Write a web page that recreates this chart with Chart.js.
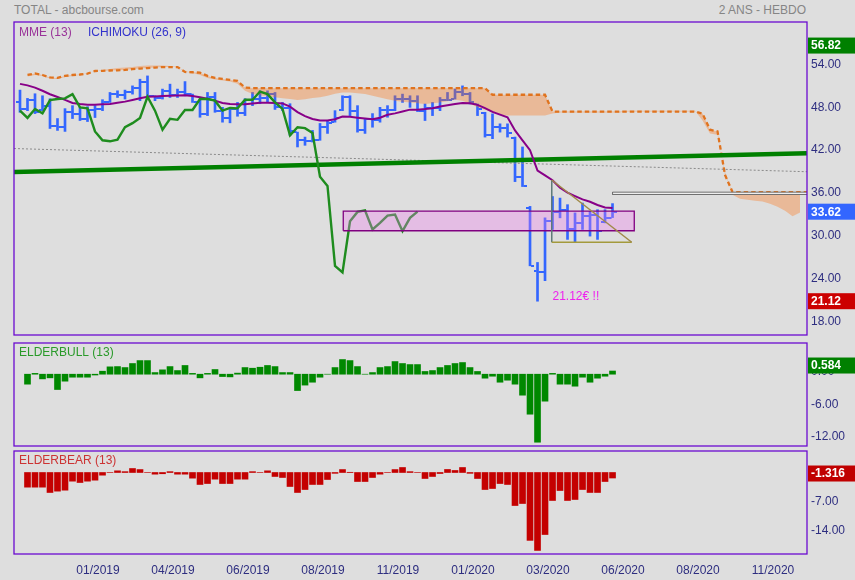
<!DOCTYPE html>
<html><head><meta charset="utf-8">
<script src="https://cdn.jsdelivr.net/npm/chart.js@4.4.1/dist/chart.umd.min.js"></script>
<style>
html,body{margin:0;padding:0;background:#dedede;}
body{width:855px;height:580px;position:relative;overflow:hidden;font-family:"Liberation Sans",Arial,sans-serif;}
canvas{position:absolute;left:0;}
.t{position:absolute;font-size:12px;color:#858585;top:3px;line-height:14px;}
</style></head><body>
<div class="t" style="left:14px">TOTAL - abcbourse.com</div>
<div class="t" style="right:49px">2 ANS - HEBDO</div>
<canvas id="cMain" width="855" height="340" style="top:0"></canvas>
<canvas id="cBull" width="855" height="108" style="top:340px"></canvas>
<canvas id="cBear" width="855" height="132" style="top:448px"></canvas>
<script>
// ---------------- DATA ----------------
const xTickIdx = [10,20,30,40,50,60,70,80,90,100];
const xTickLabels = ['01/2019','04/2019','06/2019','08/2019','11/2019','01/2020','03/2020','06/2020','08/2020','11/2020'];
const mainTicks = [18,24,30,36,42,48,54];
const bullTicks = [0,-6,-12];
const bearTicks = [0,-7,-14];

const opens = [49.0,48.0,49.2,47.8,48.4,45.6,45.4,47.6,47.2,46.6,
 47.8,47.9,49.0,50.0,49.9,50.4,50.9,51.8,49.8,49.5,
 50.5,49.9,50.4,50.0,49.0,47.2,49.6,47.73,46.72,47.97,
 47.36,49.21,49.35,49.44,50.04,48.19,48.05,44.7,43.59,43.45,
 43.68,45.42,46.2,47.8,49.67,47.73,45.06,46.59,46.45,47.83,
 47.83,49.35,49.35,49.12,47.73,48.11,48.05,49.26,49.4,50.40,
 50.04,48.6,47.4,44.28,45.42,45.29,43.9,38.51,34.2,25.4,
 25.15,32.28,33.59,33.81,31.14,32.06,33.07,33.21,32.2,32.76];
const highs = [50.60,49.44,50.09,49.81,49.39,46.63,48.01,48.43,48.19,48.29,
 48.43,49.26,50.27,50.50,50.60,51.19,52.12,52.58,49.81,50.74,
 51.43,50.74,51.79,50.04,49.35,50.27,50.27,48.19,48.10,48.88,
 49.40,50.27,50.50,50.50,50.27,48.88,48.70,44.73,44.04,44.97,
 45.94,46.35,47.73,49.81,49.81,48.43,46.59,47.32,48.19,48.43,
 49.81,50.04,49.81,49.81,48.66,48.88,49.57,50.27,50.74,51.19,
 50.27,48.66,47.50,47.28,45.89,45.89,44.04,42.66,34.36,26.53,
 32.76,35.74,35.52,34.60,33.45,34.83,33.67,33.90,33.90,34.75];
const lows = [47.50,47.73,47.32,47.73,45.24,44.97,44.83,46.63,46.35,46.21,
 46.77,47.73,48.88,49.57,49.35,50.04,49.12,49.57,49.12,49.35,
 49.57,49.57,49.81,48.88,46.81,47.04,47.50,46.12,46.03,46.95,
 47.04,48.43,48.70,48.88,47.90,47.73,44.28,42.66,42.89,43.35,
 43.59,44.55,46.12,47.73,47.04,44.73,44.55,45.42,46.12,46.81,
 47.73,48.88,48.19,47.60,46.35,47.04,47.73,49.12,49.35,49.81,
 48.66,47.04,44.04,43.82,44.73,44.04,37.82,37.13,26.06,21.12,
 23.99,31.14,32.76,29.75,29.30,31.14,30.21,29.75,32.06,32.80];
const closes = [48.0,49.2,47.6,48.4,45.6,45.4,47.6,47.2,46.6,47.8,
 47.9,49.0,50.0,49.9,50.4,50.9,51.8,49.8,49.5,50.5,
 49.9,50.4,50.0,49.0,47.2,49.6,47.73,46.72,47.97,47.36,
 49.21,49.35,49.44,50.04,48.19,48.05,44.83,43.59,43.45,43.68,
 45.42,45.98,46.72,49.67,47.73,45.06,46.59,46.45,47.83,47.83,
 49.35,49.35,49.12,47.73,48.11,48.05,49.26,49.26,50.40,50.04,
 48.88,47.97,44.28,45.42,45.29,44.60,38.51,37.22,26.06,25.15,
 32.28,33.59,33.81,31.14,32.06,33.07,33.21,30.90,32.76,33.62];

const ema13 = [51.47,51.26,50.94,50.51,50.02,49.64,49.23,48.81,48.65,48.54,
 48.55,48.61,48.66,48.84,48.99,49.21,49.45,49.67,49.72,49.78,
 49.82,49.85,49.89,49.77,49.59,49.41,49.13,48.79,48.67,48.62,
 48.61,48.73,48.84,48.85,48.80,48.74,48.29,47.53,46.97,46.56,
 46.35,46.35,46.54,46.90,46.88,46.75,46.63,46.52,46.74,47.15,
 47.35,47.60,47.87,47.87,47.96,48.08,48.30,48.47,48.65,48.81,
 48.77,48.54,48.08,47.55,47.17,46.81,44.97,43.59,42.20,39.37,
 38.68,38.01,36.96,36.28,35.80,35.34,35.00,34.55,34.21,34.14];

const chikou = [47.73,46.72,47.97,47.36,49.21,49.35,49.44,50.04,48.19,48.05,
 44.83,43.59,43.45,43.68,45.42,45.98,46.72,49.67,47.73,45.06,
 46.59,46.45,47.83,47.83,49.35,49.35,49.12,47.73,48.11,48.05,
 49.26,49.26,50.40,50.04,48.88,47.97,44.28,45.42,45.29,44.60,
 38.51,37.22,26.06,25.15,32.28,33.59,33.81,31.14,32.06,33.07,
 33.21,30.90,32.76,33.62];

const spanA = [null,52.51,52.71,52.58,52.23,52.16,52.44,52.58,52.71,52.99,
 53.20,53.41,53.54,53.68,53.75,53.82,53.96,54.03,54.03,54.03,
 53.96,53.82,53.27,52.99,52.71,52.30,52.09,51.95,51.81,51.47,
 50.50,50.04,49.88,49.74,49.60,49.46,49.35,49.21,49.33,49.49,
 49.60,49.81,50.09,50.27,50.27,50.15,50.04,49.81,49.57,49.33,
 49.12,48.98,48.88,48.77,48.66,48.77,48.88,49.05,49.26,49.12,
 48.70,48.19,47.87,47.46,47.18,47.04,47.04,47.04,47.04,47.04,
 47.04,47.32,47.46,47.46,47.46,47.46,47.46,47.46,47.46,47.46,
 47.46,47.73,47.73,47.73,47.73,47.73,47.73,47.73,47.73,47.73,
 47.73,46.35,44.55,44.35,39.16,35.98,35.42,35.28,35.15,35.05,
 34.73,34.32,33.76,33.00,33.49,null];
const spanB = [null,52.71,52.92,52.71,52.37,52.30,52.58,52.71,52.78,52.89,
 53.27,53.29,53.34,53.36,53.41,53.54,53.61,53.68,53.75,53.82,
 53.82,53.82,53.13,53.09,53.03,52.58,52.30,52.16,52.02,51.88,
 50.96,50.87,50.87,50.87,50.87,50.87,50.87,50.87,50.87,50.87,
 50.87,50.87,50.87,50.87,50.87,50.87,50.87,50.87,50.87,50.87,
 50.87,50.87,50.87,50.87,50.87,50.87,50.87,50.87,50.87,50.87,
 50.87,50.87,50.87,49.95,49.95,49.95,49.95,49.95,49.95,49.95,
 49.95,47.60,47.60,47.60,47.60,47.60,47.60,47.60,47.60,47.60,
 47.60,47.60,47.60,47.60,47.60,47.60,47.60,47.60,47.60,47.60,
 47.60,47.32,45.07,44.83,38.75,36.36,36.36,36.36,36.36,36.36,
 36.36,36.36,36.36,36.36,36.36,36.36];

const elderBull = [null,-1.83,0.15,-0.86,-0.67,-2.81,-1.28,-0.55,-0.55,-0.55,
 -0.15,0.55,1.35,1.40,1.22,1.96,2.50,2.50,0.30,0.80,
 1.40,0.67,1.60,0.15,-0.67,0.15,0.86,-0.43,-0.49,0.20,
 1.22,1.10,1.28,1.60,1.40,0.30,0.30,-3.00,-2.00,-1.47,
 -0.55,0,1.22,2.69,2.50,1.40,0,0.30,1.22,1.40,
 2.32,1.96,1.77,1.77,0.50,0.67,1.22,1.60,1.96,2.14,
 1.22,0.50,-0.73,-0.37,-1.47,-1.10,-1.83,-3.85,-7.34,-12.48,
 -4.95,0.15,-1.83,-1.83,-2.20,-0.55,-1.47,-0.73,-0.37,0.584];
const elderBear = [null,-3.50,-3.50,-3.50,-4.77,-4.45,-4.22,-2.07,-2.39,-2.07,
 -1.83,-0.64,0,0.40,0.20,0.95,0.70,0,-0.40,-0.30,
 0.20,-0.40,-0.40,-1.35,-2.86,-2.63,-1.59,-2.63,-2.63,-1.59,
 -1.59,0.20,0,0.40,-0.95,-1.19,-3.34,-4.77,-4.06,-2.86,
 -2.86,-1.67,-0.20,0.70,0.05,-2.15,-2.15,-1.19,-0.40,0,
 0.70,1.19,0.20,0,-1.43,-0.95,-0.24,0.72,0.48,1.19,
 -0.20,-1.43,-4.06,-3.82,-2.63,-2.86,-7.88,-7.40,-16.20,-18.60,
 -14.80,-6.68,-4.30,-6.68,-6.44,-4.06,-4.77,-4.77,-2.15,-1.316];

const periodHigh = 56.82, lastClose = 33.62, periodLow = 21.12;
const bullLast = 0.584, bearLast = -1.316;
const trendGreen = [[-0.8,39.16],[104.93,41.79]];
const trendGrey = [[-0.8,42.44],[104.93,39.20]];
const zoneBox = [[43.1,30.96],[81.9,30.96],[81.9,33.70],[43.1,33.70],[43.1,30.96]];
const triangle = [[70.9,38.05],[70.9,29.35],[81.56,29.35],[70.9,38.05]];
const levelBox = [[79.0,36.02],[106,36.02],[106,36.35],[79.0,36.35],[79.0,36.02]];
const lowNote = {x:71, y:21.75, text:'21.12€ !!'};

// ---------------- STYLE / HELPERS ----------------
const NAVY = '#2e2e80';
const BLUE = '#3366ff';
const FONT = '"Liberation Sans", Arial, sans-serif';
const X_MIN = -0.8, X_MAX = 104.93;
Chart.defaults.font.family = FONT;
Chart.defaults.font.size = 12;
Chart.defaults.animation = false;

const series = arr => arr.map((v,i) => ({x:i, y:v}));
const pairs = arr => arr.map(p => ({x:p[0], y:p[1]}));

function tickImg(side){
  const c = document.createElement('canvas');
  c.width = 8; c.height = 2;
  const g = c.getContext('2d');
  g.fillStyle = BLUE;
  if (side === 'L') g.fillRect(0,0,3,2); else g.fillRect(5,0,3,2);
  return c;
}
function noPad(s){ s.paddingTop = 0; s.paddingBottom = 0; s.paddingLeft = 0; s.paddingRight = 0; }

function xScale(show){
  return {
    type:'linear', min:X_MIN, max:X_MAX, offset:false, display:show,
    grid:{display:false, drawTicks:false, offset:false}, border:{display:false},
    afterBuildTicks: s => { s.ticks = xTickIdx.map(v => ({value:v})); },
    afterFit: s => { if (show) s.height = 26; noPad(s); },
    ticks:{autoSkip:false, maxRotation:0, minRotation:0, padding:9, labelOffset:3, color:NAVY,
      callback: v => { const k = xTickIdx.indexOf(v); return k >= 0 ? xTickLabels[k] : ''; }}
  };
}
function yScale(min, max, ticks, labelOffset){
  return {
    type:'linear', position:'right', min, max,
    grid:{display:false, drawTicks:false}, border:{display:false},
    afterBuildTicks: s => { s.ticks = ticks.map(v => ({value:v})); },
    afterFit: s => { s.width = 48; noPad(s); },
    ticks:{padding:4, labelOffset, color:NAVY, callback: v => Number(v).toFixed(2)}
  };
}

const frame = { id:'frame', afterDraw(chart){
  const {ctx, chartArea:a} = chart;
  ctx.save(); ctx.strokeStyle = '#6a0acf'; ctx.lineWidth = 1.3;
  ctx.strokeRect(a.left, a.top, a.right - a.left, a.bottom - a.top);
  ctx.restore();
}};
const panelText = { id:'panelText', afterDraw(chart, args, opts){
  if (!opts.items) return;
  const {ctx, chartArea:a} = chart;
  ctx.save(); ctx.font = '12px ' + FONT; ctx.textBaseline = 'middle'; ctx.textAlign = 'left';
  opts.items.forEach(it => { ctx.fillStyle = it.color; ctx.fillText(it.text, a.left + it.dx, a.top + it.dy); });
  ctx.restore();
}};
const sideBoxes = { id:'sideBoxes', afterDraw(chart, args, opts){
  if (!opts.items) return;
  const {ctx, chartArea:a} = chart; const ys = chart.scales.y;
  ctx.save(); ctx.font = 'bold 12px ' + FONT; ctx.textBaseline = 'middle'; ctx.textAlign = 'left';
  opts.items.forEach(it => {
    const py = ys.getPixelForValue(it.v) + (opts.dy || 0);
    ctx.fillStyle = it.bg; ctx.fillRect(a.right + 1, py - 8, chart.width - a.right - 1, 16);
    ctx.fillStyle = '#ffffff'; ctx.fillText(String(it.v), a.right + 4, py + 0.5);
  });
  ctx.restore();
}};
const note = { id:'note', afterDatasetsDraw(chart, args, opts){
  if (!opts.text) return;
  const {ctx} = chart;
  ctx.save(); ctx.font = '12px ' + FONT; ctx.textBaseline = 'middle'; ctx.textAlign = 'left';
  ctx.fillStyle = opts.color;
  ctx.fillText(opts.text, chart.scales.x.getPixelForValue(opts.x), chart.scales.y.getPixelForValue(opts.y));
  ctx.restore();
}};
Chart.register(frame, panelText, sideBoxes, note);

const baseOpts = (padTop, padBottom) => ({
  responsive:false, devicePixelRatio:1, animation:false, events:[],
  layout:{padding:{left:14, right:0, top:padTop, bottom:padBottom}},
  plugins:{legend:{display:false}, tooltip:{enabled:false}}
});

// ---------------- MAIN PANEL ----------------
const triColors = ['#5f7a78','#a39a3c','#a08a48'];
const mainOpts = baseOpts(22, 2);
mainOpts.scales = { x: xScale(false), y: yScale(16.40, 60.11, mainTicks, -1.5) };
mainOpts.plugins.panelText = { items:[
  {text:'MME (13)', color:'#993399', dx:5, dy:10.5},
  {text:'ICHIMOKU (26, 9)', color:'#3333cc', dx:74, dy:10.5}
]};
mainOpts.plugins.sideBoxes = { dy:0, items:[
  {v:periodHigh, bg:'#008000'}, {v:lastClose, bg:'#3366ff'}, {v:periodLow, bg:'#cc0000'}
]};
mainOpts.plugins.note = { x:lowNote.x, y:lowNote.y, text:lowNote.text, color:'#ee22ee' };

new Chart(document.getElementById('cMain'), {
  type:'line',
  data:{ datasets:[
    { type:'bar', data: highs.map((h,i) => ({x:i, y:[lows[i], h]})), backgroundColor:BLUE,
      barThickness:2, grouped:false, order:10 },
    { data: series(opens), showLine:false, pointStyle: tickImg('L'), pointRadius:3, order:9 },
    { data: series(closes), showLine:false, pointStyle: tickImg('R'), pointRadius:3, order:9 },
    { data: series(spanB), borderColor:'#e0731e', borderWidth:2.3, borderDash:[4.5,3], pointRadius:0, fill:false, order:7 },
    { data: series(spanA), borderWidth:0, borderColor:'rgba(0,0,0,0)', pointRadius:0,
      fill:{target:3, above:'rgba(255,110,10,0.33)', below:'rgba(255,110,10,0.33)'}, order:8 },
    { data: pairs(trendGrey), borderColor:'#8a8a8a', borderWidth:1, borderDash:[2,2], pointRadius:0, order:6 },
    { data: pairs(trendGreen), borderColor:'#008000', borderWidth:4.5, pointRadius:0, order:5 },
    { data: series(ema13), borderColor:'#880088', borderWidth:2, pointRadius:0, order:4 },
    { data: series(chikou), borderColor:'#1e8c1e', borderWidth:2.4, pointRadius:0, order:3 },
    { data: pairs(zoneBox), borderColor:'#800080', borderWidth:1.3, pointRadius:0,
      fill:'shape', backgroundColor:'rgba(240,120,240,0.33)', order:2 },
    { data: pairs(levelBox), borderColor:'#707070', borderWidth:1, pointRadius:0,
      fill:'shape', backgroundColor:'#eeeeee', order:2 },
    { data: pairs(triangle), borderWidth:1.5, pointRadius:0, order:1,
      segment:{ borderColor: c => triColors[c.p0DataIndex] } }
  ]},
  options: mainOpts
});

// ---------------- ELDER BULL ----------------
const bullOpts = baseOpts(3, 2);
bullOpts.scales = { x: xScale(false), y: yScale(-13.174, 5.725, bullTicks, -2.5) };
bullOpts.plugins.panelText = { items:[{text:'ELDERBULL (13)', color:'#2a9a2a', dx:5, dy:9.5}] };
bullOpts.plugins.sideBoxes = { dy:-5.5, items:[{v:bullLast, bg:'#008000'}] };
new Chart(document.getElementById('cBull'), {
  type:'bar',
  data:{ datasets:[{ data: series(elderBull), backgroundColor:'#008800', barThickness:6, grouped:false }]},
  options: bullOpts
});

// ---------------- ELDER BEAR ----------------
const bearOpts = baseOpts(3, 0);
bearOpts.scales = { x: xScale(true), y: yScale(-19.45, 5.13, bearTicks, -0.3) };
bearOpts.plugins.panelText = { items:[{text:'ELDERBEAR (13)', color:'#cc3333', dx:5, dy:9.5}] };
bearOpts.plugins.sideBoxes = { dy:-4.5, items:[{v:bearLast, bg:'#c00000'}] };
new Chart(document.getElementById('cBear'), {
  type:'bar',
  data:{ datasets:[{ data: series(elderBear), backgroundColor:'#c40000', barThickness:6, grouped:false }]},
  options: bearOpts
});
</script>
</body></html>
